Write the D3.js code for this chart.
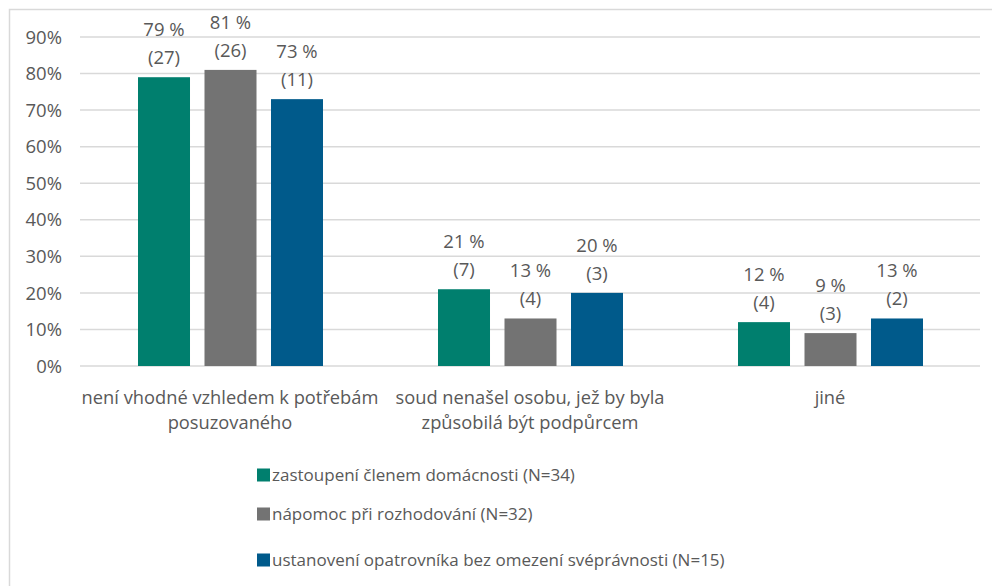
<!DOCTYPE html>
<html>
<head>
<meta charset="utf-8">
<script src="https://cdn.jsdelivr.net/npm/d3@7"></script>
<style>
body { margin: 0; background: #fff; }
text { font-family: "Open Sans", "Noto Sans", sans-serif; fill: #595959; }
</style>
</head>
<body>
<div class="container"></div>
<script>
// data
var categories = [
	["není vhodné vzhledem k potřebám", "posuzovaného"],
	["soud nenašel osobu, jež by byla", "způsobilá být podpůrcem"],
	["jiné"]
];
var seriesNames = [
	"zastoupení členem domácnosti (N=34)",
	"nápomoc při rozhodování (N=32)",
	"ustanovení opatrovníka bez omezení svéprávnosti (N=15)"
];
var percents = [
	[79, 21, 12],
	[81, 13, 9],
	[73, 20, 13]
];
var counts = [
	[27, 7, 4],
	[26, 4, 3],
	[11, 3, 2]
];
var yTicks = [0, 10, 20, 30, 40, 50, 60, 70, 80, 90];
var colors = ["#007f6e", "#737373", "#005a8b"];

var width = 992, height = 586;
var legendY = [475, 514, 560];

var svg = d3.select(".container")
	.append("svg")
	.attr("width", width)
	.attr("height", height);

// chart frame
svg.append("path")
	.attr("d", "M9.5," + height + "V9.5H" + width)
	.attr("fill", "none")
	.attr("stroke", "#d9d9d9")
	.attr("stroke-width", 1.5);

var x0 = d3.scaleBand()
	.domain(d3.range(categories.length))
	.range([80, 980]);

// offsets inside a group, relative to the group centre
var x1 = d3.scaleBand()
	.domain(d3.range(seriesNames.length))
	.range([-92, 93])
	.paddingInner(0.218);

var y = d3.scaleLinear()
	.domain([0, 90])
	.range([366, 37]);

function barX(i, s){ return x0(i) + x0.bandwidth() / 2 + x1(s); }

// gridlines + y labels
var yAxis = svg.append("g");
yAxis.selectAll("line").data(yTicks).enter().append("line")
	.attr("x1", 80).attr("x2", 980)
	.attr("y1", function(d){ return y(d); })
	.attr("y2", function(d){ return y(d); })
	.attr("stroke", "#d9d9d9")
	.attr("stroke-width", 1.5);
yAxis.selectAll("text").data(yTicks).enter().append("text")
	.attr("x", 62)
	.attr("y", function(d){ return y(d); })
	.attr("dy", "0.36em")
	.attr("text-anchor", "end")
	.attr("font-size", 18.5)
	.text(function(d){ return d + "%"; });

// bars
var groups = svg.selectAll(".series").data(percents).enter().append("g")
	.attr("class", "series");

groups.each(function(vals, s){
	var g = d3.select(this);
	g.selectAll("rect").data(vals).enter().append("rect")
		.attr("x", function(d, i){ return barX(i, s); })
		.attr("y", function(d){ return y(d); })
		.attr("width", x1.bandwidth())
		.attr("height", function(d){ return y(0) - y(d); })
		.attr("fill", colors[s]);

	var lbl = g.selectAll("text").data(vals).enter().append("text")
		.attr("text-anchor", "middle")
		.attr("font-size", 18.5);
	lbl.append("tspan")
		.attr("x", function(d, i){ return barX(i, s) + x1.bandwidth() / 2; })
		.attr("y", function(d){ return y(d) - 41; })
		.text(function(d){ return d + " %"; });
	lbl.append("tspan")
		.attr("x", function(d, i){ return barX(i, s) + x1.bandwidth() / 2; })
		.attr("y", function(d){ return y(d) - 13; })
		.text(function(d, i){ return "(" + counts[s][i] + ")"; });
});

// category labels
var cat = svg.selectAll(".cat").data(categories).enter().append("text")
	.attr("class", "cat")
	.attr("text-anchor", "middle")
	.attr("font-size", 18.3);
cat.each(function(lines, i){
	var t = d3.select(this);
	lines.forEach(function(l, k){
		t.append("tspan")
			.attr("x", x0(i) + x0.bandwidth() / 2)
			.attr("y", 404 + k * 25)
			.text(l);
	});
});

// legend
var legend = svg.selectAll(".legend").data(seriesNames).enter().append("g")
	.attr("class", "legend")
	.attr("transform", function(d, i){ return "translate(257," + legendY[i] + ")"; });
legend.append("rect")
	.attr("x", 0).attr("y", -6.5)
	.attr("width", 13).attr("height", 13)
	.attr("fill", function(d, i){ return colors[i]; });
legend.append("text")
	.attr("x", 15)
	.attr("dy", "0.36em")
	.attr("font-size", 17)
	.text(function(d){ return d; });
</script>
</body>
</html>
